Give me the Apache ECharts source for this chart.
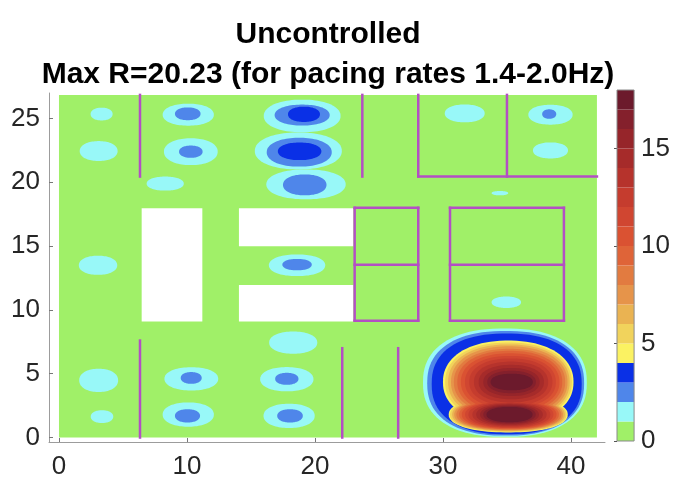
<!DOCTYPE html>
<html><head><meta charset="utf-8">
<script src="https://cdn.jsdelivr.net/npm/echarts@6/dist/echarts.min.js"></script>
<style>html,body{margin:0;padding:0;background:#fff}#c{width:673px;height:482px}</style>
</head><body><div id="c"></div>
<script>
// ---- tick labels ----
const xTicks = [0, 10, 20, 30, 40];
const yTicks = [0, 5, 10, 15, 20, 25];
const cbTicks = [0, 5, 10, 15];
// ---- colour levels (0..18, one per unit) ----
const levels = [0,1,2,3,4,5,6,7,8,9,10,11,12,13,14,15,16,17];
const levelColors = ['#a0f068','#98f8f8','#4f86ea','#0a30e6','#fbf262','#f1d35c','#eab352','#e6944a',
  '#e27b40','#df6438','#da5232','#d04631','#c53c2e','#b6332c','#a62b2a','#96252a','#84202c','#6c1a2c'];
// ---- data field extent [xmin, xmax, ymin, ymax] ----
const field = [0, 42.03, 0, 26.85];
// ---- contour regions: [cx, cy, rx, ry, level] ----
const contourSmall = [
  [3.33,25.35,0.86,0.5,1],
  [3.1,22.45,1.48,0.78,1],
  [8.3,19.9,1.45,0.55,1],
  [10.1,25.3,2.0,0.86,1],[10.06,25.37,1.0,0.5,2],
  [10.3,22.4,2.1,1.05,1],[10.3,22.4,0.92,0.48,2],
  [3.05,13.5,1.5,0.75,1],
  [19.0,25.2,3.0,1.28,1],[18.7,22.46,3.4,1.45,1],[19.3,19.84,3.1,1.17,1],
  [19.0,25.27,2.15,0.82,2],[18.77,22.36,2.54,1.13,2],[19.2,19.8,1.7,0.82,2],
  [19.14,25.33,1.25,0.6,3],[18.8,22.43,1.7,0.69,3],
  [18.6,13.5,2.2,0.85,1],[18.6,13.55,1.15,0.45,2],
  [31.7,25.4,1.56,0.7,1],
  [38.4,25.3,1.73,0.78,1],[38.3,25.35,0.55,0.37,2],
  [38.4,22.5,1.37,0.63,1],
  [34.45,19.15,0.65,0.17,1],
  [34.95,10.6,1.15,0.45,1],
  [3.1,4.48,1.52,0.91,1],
  [3.36,1.64,0.88,0.5,1],
  [10.34,4.6,2.1,0.91,1],[10.33,4.67,0.82,0.46,2],
  [10.1,1.8,2.0,0.95,1],[10.04,1.7,0.98,0.52,2],
  [18.3,7.44,1.88,0.87,1],
  [17.8,4.57,2.08,0.95,1],[17.8,4.6,0.91,0.47,2],
  [17.98,1.7,2.0,0.95,1],[18.05,1.7,1.0,0.52,2]
];
const bigOuter = [[34.84,4.3,6.4,4.25,1],[34.9,4.25,6.13,4.1,2],[34.98,4.2,5.86,3.95,3]];
const bigUpper = [
  [35.1,4.35,5.1,3.25,4],[35.12,4.35,4.95,3.1,5],[35.15,4.35,4.75,2.95,6],[35.18,4.35,4.55,2.8,7],
  [35.2,4.35,4.35,2.6,8],[35.22,4.35,4.1,2.45,9],[35.25,4.35,3.85,2.25,10],[35.27,4.35,3.55,2.05,11],
  [35.3,4.35,3.25,1.85,12],[35.32,4.35,2.9,1.6,13],[35.34,4.35,2.55,1.35,14],[35.35,4.35,2.2,1.1,15],
  [35.36,4.35,1.9,0.88,16],[35.37,4.35,1.65,0.65,17]
];
const bigLower = [
  [35.1,1.8,4.65,1.4,4],[35.1,1.8,4.55,1.35,5],[35.12,1.8,4.4,1.3,6],[35.13,1.8,4.25,1.25,7],
  [35.15,1.8,4.1,1.2,8],[35.16,1.8,3.9,1.15,9],[35.17,1.8,3.7,1.1,10],[35.18,1.8,3.45,1.05,11],
  [35.19,1.8,3.2,1.0,12],[35.2,1.8,2.9,0.92,13],[35.2,1.8,2.6,0.84,14],[35.2,1.8,2.3,0.76,15],
  [35.2,1.8,2.05,0.68,16],[35.2,1.8,1.8,0.6,17]
];
// ---- NaN (white) regions: [x1, y1, x2, y2] ----
const holes = [[6.46,9.1,11.2,17.97],[14.06,15.0,23.0,17.97],[14.06,9.1,23.0,11.95]];
// ---- walls: [x1, y1, x2, y2] ----
const walls = [
  [6.33,20.45,6.33,26.85],[6.33,0,6.33,7.6],
  [23.7,20.45,23.7,26.85],[28.07,20.45,28.07,26.85],[35.0,20.45,35.0,26.85],[28.07,20.45,42.03,20.45],
  [23.1,9.16,28.07,9.16],[23.1,18.0,28.07,18.0],[23.1,13.55,28.07,13.55],[23.1,9.16,23.1,18.0],[28.07,9.16,28.07,18.0],
  [30.55,9.16,39.45,9.16],[30.55,18.0,39.45,18.0],[30.55,13.55,39.45,13.55],[30.55,9.16,30.55,18.0],[39.45,9.16,39.45,18.0],
  [22.13,0,22.13,7.0],[26.5,0,26.5,7.0]
];

const FONT = 'Liberation Sans, Arial, Helvetica, sans-serif';
const TXT = '#262626';

const contourData = [];
contourSmall.forEach(d => contourData.push(d.concat([0])));
bigOuter.forEach(d => contourData.push(d.concat([1])));
bigUpper.forEach(d => contourData.push(d.concat([2])));
bigLower.forEach(d => contourData.push(d.concat([2])));
contourData.sort((a, b) => a[4] - b[4]);
const shapeExp = [2.15, 2.35, 2.2];

function blobItem(params, api) {
  const cx = api.value(0), cy = api.value(1), rx = api.value(2), ry = api.value(3);
  const lv = api.value(4), n = shapeExp[api.value(5)];
  const pts = [];
  const N = 90;
  for (let i = 0; i < N; i++) {
    const t = i / N * 2 * Math.PI, c = Math.cos(t), s = Math.sin(t);
    const px = cx + rx * Math.sign(c) * Math.pow(Math.abs(c), 2 / n);
    const py = cy + ry * Math.sign(s) * Math.pow(Math.abs(s), 2 / n);
    pts.push(api.coord([px, py]));
  }
  return { type: 'polygon', shape: { points: pts }, style: { fill: levelColors[lv] } };
}
function rectItem(fill) {
  return function (params, api) {
    const a = api.coord([api.value(0), api.value(3)]);
    const b = api.coord([api.value(2), api.value(1)]);
    return { type: 'rect', shape: { x: a[0], y: a[1], width: b[0] - a[0], height: b[1] - a[1] }, style: { fill: fill } };
  };
}

const chart = echarts.init(document.getElementById('c'), null, { renderer: 'canvas' });
chart.setOption({
  animation: false,
  backgroundColor: '#fff',
  title: {
    text: 'Uncontrolled\nMax R=20.23 (for pacing rates 1.4-2.0Hz)',
    left: 328, top: 15, padding: 0, textAlign: 'center',
    textStyle: { fontFamily: FONT, fontSize: 30, fontWeight: 'bold', color: '#000', lineHeight: 40 }
  },
  grid: [
    { left: 49, top: 93, width: 556, height: 349 },
    { left: 617, top: 90, width: 19, height: 351 }
  ],
  xAxis: [
    { gridIndex: 0, type: 'value', min: -0.78, max: 42.66,
      axisLine: { show: true, onZero: false, lineStyle: { color: '#9c9c9c', width: 1 } },
      axisTick: { show: true, inside: true, length: 4, customValues: xTicks, lineStyle: { color: '#777' } },
      axisLabel: { customValues: xTicks, fontSize: 26, color: TXT, fontFamily: FONT, margin: 12 },
      splitLine: { show: false } },
    { gridIndex: 1, type: 'value', min: 0, max: 1, show: false }
  ],
  yAxis: [
    { gridIndex: 0, type: 'value', min: -0.35, max: 27,
      axisLine: { show: true, onZero: false, lineStyle: { color: '#9c9c9c', width: 1 } },
      axisTick: { show: true, inside: true, length: 4, customValues: yTicks, lineStyle: { color: '#777' } },
      axisLabel: { customValues: yTicks, fontSize: 26, color: TXT, fontFamily: FONT, margin: 9 },
      splitLine: { show: false } },
    { gridIndex: 1, type: 'value', min: 0, max: 18, position: 'right',
      axisLine: { show: false },
      axisTick: { show: true, inside: true, length: 3, customValues: cbTicks, lineStyle: { color: '#555' } },
      axisLabel: { customValues: cbTicks, fontSize: 26, color: TXT, fontFamily: FONT, margin: 7 },
      splitLine: { show: false } }
  ],
  series: [
    { type: 'custom', xAxisIndex: 0, yAxisIndex: 0, silent: true, z: 1,
      renderItem: rectItem(levelColors[0]), data: [[field[0], field[2], field[1], field[3]]] },
    { type: 'custom', xAxisIndex: 0, yAxisIndex: 0, silent: true, z: 2,
      renderItem: blobItem, data: contourData },
    { type: 'custom', xAxisIndex: 0, yAxisIndex: 0, silent: true, z: 3,
      renderItem: rectItem('#ffffff'), data: holes },
    { type: 'custom', xAxisIndex: 0, yAxisIndex: 0, silent: true, z: 4,
      renderItem: function (params, api) {
        const a = api.coord([api.value(0), api.value(1)]);
        const b = api.coord([api.value(2), api.value(3)]);
        return { type: 'line', shape: { x1: a[0], y1: a[1], x2: b[0], y2: b[1] },
          style: { stroke: '#b34fc4', lineWidth: 2.5, lineCap: 'square' } };
      }, data: walls },
    { type: 'custom', xAxisIndex: 1, yAxisIndex: 1, silent: true, z: 2,
      renderItem: function (params, api) {
        const lv = api.value(0);
        const a = api.coord([0, lv + 1]);
        const b = api.coord([1, lv]);
        return { type: 'rect', shape: { x: a[0], y: a[1], width: b[0] - a[0], height: b[1] - a[1] },
          style: { fill: levelColors[lv] } };
      }, data: levels.map(l => [l]) },
    { type: 'custom', xAxisIndex: 1, yAxisIndex: 1, silent: true, z: 3,
      renderItem: function (params, api) {
        const a = api.coord([0, api.value(1)]);
        const b = api.coord([1, api.value(0)]);
        return { type: 'rect', shape: { x: a[0], y: a[1], width: b[0] - a[0], height: b[1] - a[1] },
          style: { fill: 'none', stroke: '#8a8a8a', lineWidth: 1 } };
      }, data: [[levels[0], levels[levels.length - 1] + 1]] }
  ]
});
</script></body></html>
